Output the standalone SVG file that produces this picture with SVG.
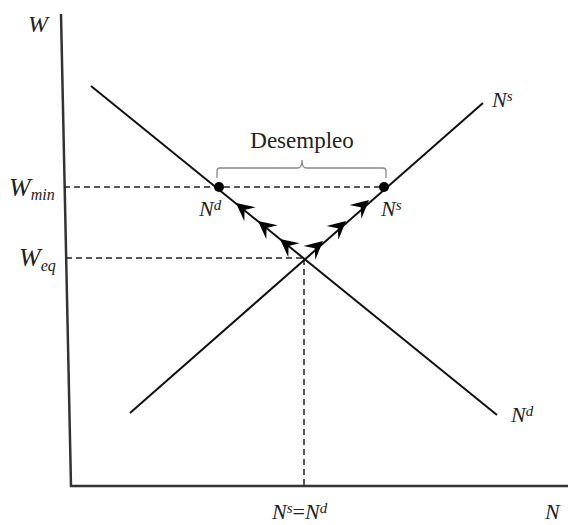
<svg xmlns="http://www.w3.org/2000/svg" width="568" height="525" viewBox="0 0 568 525">
<style>
.ax{fill:none;stroke:#333;stroke-width:2.5}
.ln{fill:none;stroke:#111;stroke-width:2}
.ds{fill:none;stroke:#222;stroke-width:1.5;stroke-dasharray:6,4}
.br{fill:none;stroke:#888;stroke-width:1.3}
.t{font-family:"Liberation Serif","Times New Roman",serif;fill:#222}
.i{font-style:italic}
</style>
<defs>
<path id="ah" d="M0,0 L-18,-9 L-11,0 L-18,9 Z" fill="#000"/>
</defs>
<rect width="568" height="525" fill="#fff"/>
<g id="connectors">
<path class="ax" d="M61,14 L71,486 L568,486"/>
<path class="ds" d="M64,187 L384,187"/>
<path class="ds" d="M66,258 L304,258"/>
<path class="ds" d="M304,259 L304,486"/>
<path class="ln" d="M91,86 L497,415"/>
<path class="ln" d="M130,413 L483,103"/>
<path class="br" d="M217,178 L217,171 Q217,168 220,168 L298,168 Q302,168 302,160 Q302,168 306,168 L383,168 Q386,168 386,171 L386,178"/>
<use href="#ah" transform="translate(236,203) rotate(-141)"/>
<use href="#ah" transform="translate(258,221) rotate(-141)"/>
<use href="#ah" transform="translate(280,239) rotate(-141)"/>
<use href="#ah" transform="translate(323,241) rotate(-41.3)"/>
<use href="#ah" transform="translate(346,221) rotate(-41.3)"/>
<use href="#ah" transform="translate(369,200) rotate(-41.3)"/>
</g>
<g id="point-nd"><circle cx="219" cy="187" r="5" fill="#000"/></g>
<g id="point-ns"><circle cx="384" cy="187" r="5" fill="#000"/></g>
<g id="labels">
<text class="t i" x="28" y="32" font-size="24">W</text>
<text class="t i" x="9" y="196" font-size="26">W<tspan font-size="16" dy="4">min</tspan></text>
<text class="t i" x="19" y="266" font-size="26">W<tspan font-size="16" dy="5">eq</tspan></text>
<text class="t" x="302" y="148" font-size="23" text-anchor="middle">Desempleo</text>
<text class="t i" x="199" y="216" font-size="22">N<tspan font-size="15" dy="-6">d</tspan></text>
<text class="t i" x="381" y="216" font-size="22">N<tspan font-size="15" dy="-6">s</tspan></text>
<text class="t i" x="492" y="107" font-size="22">N<tspan font-size="15" dy="-6">s</tspan></text>
<text class="t i" x="511" y="422" font-size="22">N<tspan font-size="15" dy="-6">d</tspan></text>
<text class="t i" x="272" y="519" font-size="22">N<tspan font-size="15" dy="-6">s</tspan><tspan font-style="normal" font-size="22" dy="6">=</tspan>N<tspan font-size="15" dy="-6">d</tspan></text>
<text class="t i" x="545" y="519" font-size="22">N</text>
</g>
</svg>
